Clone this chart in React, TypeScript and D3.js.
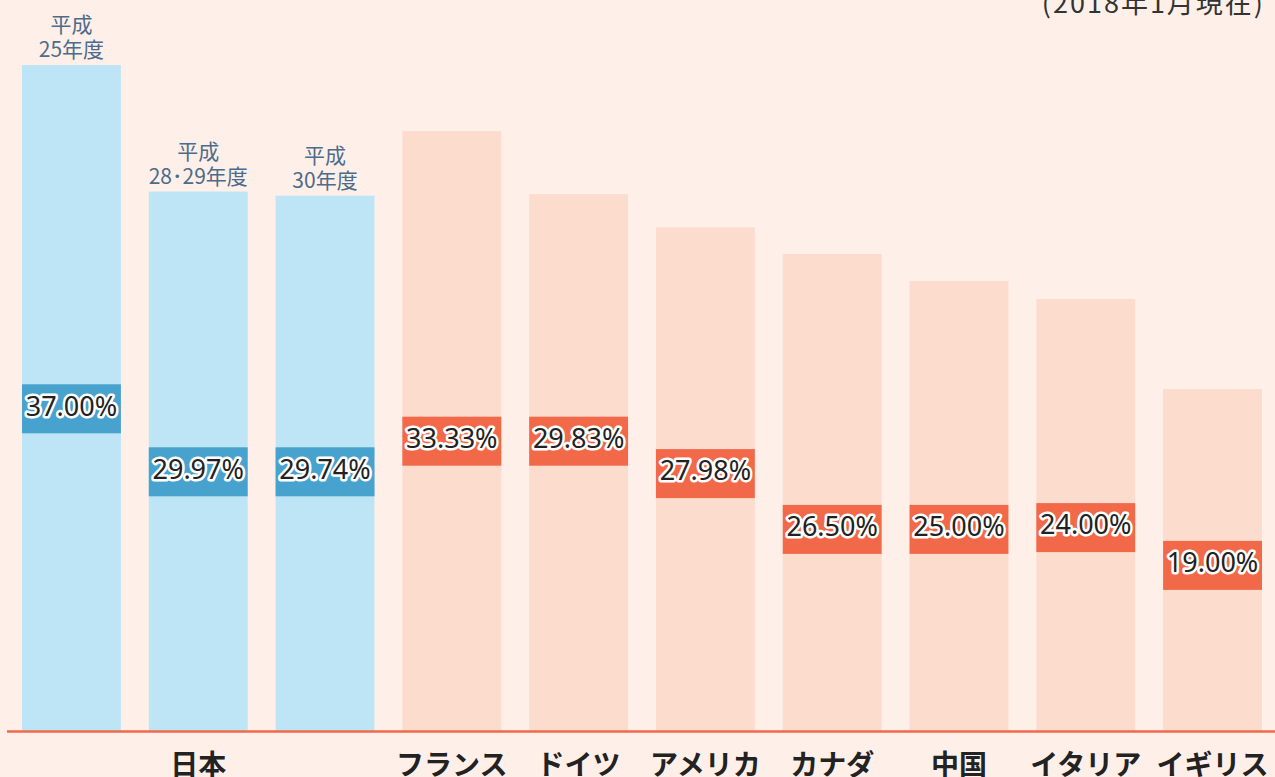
import React, { useEffect, useRef } from 'react';
import * as d3 from 'd3';

const width = 1275,
  height = 777;

const barKeys = ['H25', 'H28-29', 'H30', 'FR', 'DE', 'US', 'CA', 'CN', 'IT', 'UK'];
const values = [37.0, 29.97, 29.74, 33.33, 29.83, 27.98, 26.5, 25.0, 24.0, 19.0];
// where the value badge sits, in the same % units as the bars
const badgeLevels = [17.9, 14.4, 14.4, 16.1, 16.1, 14.3, 11.2, 11.2, 11.3, 9.2];
const isJapan = [true, true, true, false, false, false, false, false, false, false];
const yearLabels = [['平成', '25年度'], ['平成', '28･29年度'], ['平成', '30年度'], null, null, null, null, null, null, null];

const groupNames = ['日本', 'フランス', 'ドイツ', 'アメリカ', 'カナダ', '中国', 'イタリア', 'イギリス'];
const groupMembers = [['H25', 'H28-29', 'H30'], ['FR'], ['DE'], ['US'], ['CA'], ['CN'], ['IT'], ['UK']];

const note = '(2018年1月現在)';

const COLORS = {
  bg: '#FEF0E9',
  jpBar: '#BDE5F5',
  jpBadge: '#48A2CE',
  bar: '#FCDCCD',
  badge: '#F2694A',
  axis: '#F2694A',
  year: '#4D6B8A',
  text: '#222222',
};

const App = () => {
  const ref = useRef<SVGSVGElement>(null);

  useEffect(() => {
    document.body.style.margin = '0';
    const svg = d3.select(ref.current);
    svg.selectAll('*').remove();

    const x = d3.scaleBand().domain(barKeys).range([22, 1262]).paddingInner(0.22).paddingOuter(0);
    const y = d3.scaleLinear().domain([0, 37]).range([731, 65]);
    const bw = x.bandwidth();
    const badgeH = 49;

    svg.append('rect').attr('width', width).attr('height', height).attr('fill', COLORS.bg);

    const data = barKeys.map((k, i) => ({ key: k, value: values[i], level: badgeLevels[i], jp: isJapan[i], year: yearLabels[i] }));

    const g = svg.selectAll('.bar').data(data).enter().append('g').attr('class', 'bar');

    g.append('rect')
      .attr('x', (d) => x(d.key)!)
      .attr('y', (d) => y(d.value))
      .attr('width', bw)
      .attr('height', (d) => y(0) - y(d.value))
      .attr('fill', (d) => (d.jp ? COLORS.jpBar : COLORS.bar));

    g.append('rect')
      .attr('x', (d) => x(d.key)!)
      .attr('y', (d) => y(d.level) - badgeH / 2)
      .attr('width', bw)
      .attr('height', badgeH)
      .attr('fill', (d) => (d.jp ? COLORS.jpBadge : COLORS.badge));

    g.append('text')
      .attr('x', (d) => x(d.key)! + bw / 2)
      .attr('y', (d) => y(d.level) - 3)
      .attr('dy', '0.36em')
      .attr('text-anchor', 'middle')
      .style('font-family', '"Noto Sans", sans-serif')
      .style('font-size', '27px')
      .style('fill', COLORS.text)
      .style('stroke', '#fff')
      .style('stroke-width', '5px')
      .style('stroke-linejoin', 'round')
      .style('paint-order', 'stroke')
      .text((d) => d.value.toFixed(2) + '%');

    // year labels over the Japan bars
    const yl = g.filter((d) => d.year !== null)
      .append('text')
      .attr('text-anchor', 'middle')
      .style('font-family', '"Noto Sans CJK JP", sans-serif')
      .style('font-size', '21px')
      .style('fill', COLORS.year);
    yl.append('tspan')
      .attr('x', (d) => x(d.key)! + bw / 2)
      .attr('y', (d) => y(d.value) - 33)
      .text((d) => d.year![0]);
    yl.append('tspan')
      .attr('x', (d) => x(d.key)! + bw / 2)
      .attr('y', (d) => y(d.value) - 8)
      .text((d) => d.year![1]);

    // baseline
    svg.append('line')
      .attr('x1', 7)
      .attr('x2', width)
      .attr('y1', y(0) + 0.5)
      .attr('y2', y(0) + 0.5)
      .attr('stroke', COLORS.axis)
      .attr('stroke-width', 2.5);

    // country names
    svg.selectAll('.cat')
      .data(groupNames)
      .enter()
      .append('text')
      .attr('class', 'cat')
      .attr('x', (d, i) => {
        const m = groupMembers[i];
        const a = x(m[0])!;
        const b = x(m[m.length - 1])! + bw;
        return (a + b) / 2;
      })
      .attr('y', 775)
      .attr('text-anchor', 'middle')
      .style('font-family', '"Noto Sans CJK JP", sans-serif')
      .style('font-size', '28px')
      .style('font-weight', 'bold')
      .style('fill', COLORS.text)
      .text((d) => d);

    svg.append('text')
      .attr('x', 1265)
      .attr('y', 13)
      .attr('text-anchor', 'end')
      .style('font-family', '"Noto Sans CJK JP", sans-serif')
      .style('font-size', '27px')
      .style('letter-spacing', '2px')
      .style('fill', '#333')
      .text(note);
  }, []);

  return (
    <div style={{ position: 'absolute', left: 0, top: 0 }}>
      <svg ref={ref} width={width} height={height} style={{ display: 'block' }} />
    </div>
  );
};

export default App;
